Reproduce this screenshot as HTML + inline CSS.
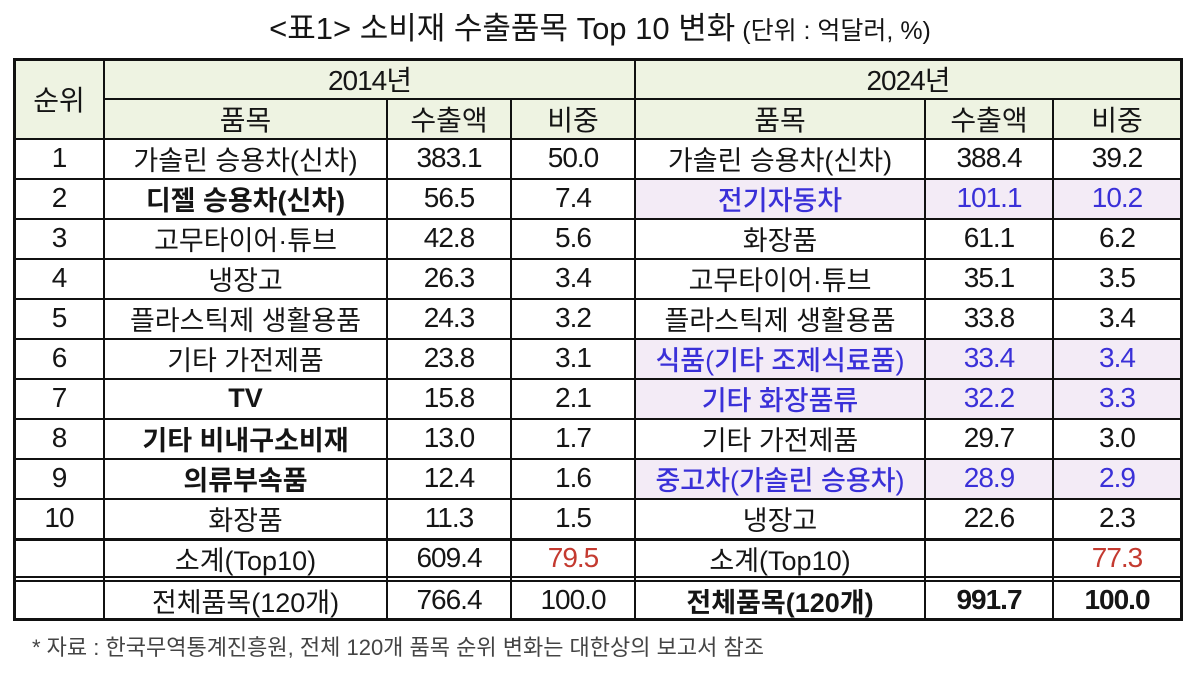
<!DOCTYPE html>
<html><head><meta charset="utf-8">
<style>
html,body{margin:0;padding:0;background:#fff;}
body{width:1200px;height:673px;position:relative;overflow:hidden;font-family:"Liberation Sans","Noto Sans CJK KR",sans-serif;color:#151515;}
.h,.v{position:absolute;background:#111;}
.bg{position:absolute;}
.c{position:absolute;display:flex;align-items:center;justify-content:center;white-space:nowrap;font-size:27px;height:40px;}
.n{font-size:28px;letter-spacing:-1px;}
.hd{font-size:28px;}
.b{font-weight:700;}
.bl{color:#3a30d8;font-weight:500;}
.rd{color:#c43a30;}
</style></head><body>

<div style="position:absolute;left:0;top:3px;width:1200px;text-align:center;white-space:nowrap;">
<span style="font-size:31px;">&lt;표1&gt; 소비재 수출품목 Top 10 변화</span><span style="font-size:25px;"> (단위 : 억달러, %)</span>
</div>

<!-- backgrounds -->
<div class="bg" style="left:13px;top:58px;width:1170px;height:81px;background:#eef3e2;"></div>
<div class="bg" style="left:635px;top:179px;width:546px;height:40px;background:#f3ebf6;"></div>
<div class="bg" style="left:635px;top:339px;width:546px;height:80px;background:#f3ebf6;"></div>
<div class="bg" style="left:635px;top:459px;width:546px;height:40px;background:#f3ebf6;"></div>

<!-- horizontal lines -->
<div class="h" style="left:13px;top:58px;width:1170px;height:3px;"></div>
<div class="h" style="left:103px;top:98px;width:1080px;height:2px;"></div>
<div class="h" style="left:13px;top:138px;width:1170px;height:2px;"></div>
<div class="h" style="left:13px;top:178px;width:1170px;height:2px;"></div>
<div class="h" style="left:13px;top:218px;width:1170px;height:2px;"></div>
<div class="h" style="left:13px;top:258px;width:1170px;height:2px;"></div>
<div class="h" style="left:13px;top:298px;width:1170px;height:2px;"></div>
<div class="h" style="left:13px;top:338px;width:1170px;height:2px;"></div>
<div class="h" style="left:13px;top:378px;width:1170px;height:2px;"></div>
<div class="h" style="left:13px;top:418px;width:1170px;height:2px;"></div>
<div class="h" style="left:13px;top:458px;width:1170px;height:2px;"></div>
<div class="h" style="left:13px;top:498px;width:1170px;height:2px;"></div>
<div class="h" style="left:13px;top:538px;width:1170px;height:3px;"></div>
<div class="h" style="left:13px;top:576px;width:1170px;height:2px;"></div>
<div class="h" style="left:13px;top:580px;width:1170px;height:2px;"></div>
<div class="h" style="left:13px;top:618px;width:1170px;height:3px;"></div>

<!-- vertical lines -->
<div class="v" style="left:13px;top:58px;width:3px;height:563px;"></div>
<div class="v" style="left:103px;top:58px;width:2px;height:563px;"></div>
<div class="v" style="left:386px;top:98px;width:2px;height:523px;"></div>
<div class="v" style="left:510px;top:98px;width:2px;height:523px;"></div>
<div class="v" style="left:634px;top:58px;width:2px;height:563px;"></div>
<div class="v" style="left:924px;top:98px;width:2px;height:523px;"></div>
<div class="v" style="left:1052px;top:98px;width:2px;height:523px;"></div>
<div class="v" style="left:1180px;top:58px;width:3px;height:563px;"></div>

<!-- headers -->
<div class="c hd" style="left:15px;width:88px;top:59px;height:80px;">순위</div>
<div class="c n" style="left:105px;width:529px;top:59px;">2014년</div>
<div class="c n" style="left:636px;width:544px;top:59px;">2024년</div>
<div class="c hd" style="left:105px;width:281px;top:99px;">품목</div>
<div class="c hd" style="left:388px;width:122px;top:99px;">수출액</div>
<div class="c hd" style="left:512px;width:122px;top:99px;">비중</div>
<div class="c hd" style="left:636px;width:288px;top:99px;">품목</div>
<div class="c hd" style="left:926px;width:126px;top:99px;">수출액</div>
<div class="c hd" style="left:1054px;width:126px;top:99px;">비중</div>

<!-- row 1 -->
<div class="c n" style="left:15px;width:88px;top:138px;">1</div>
<div class="c" style="left:105px;width:281px;top:138px;">가솔린 승용차(신차)</div>
<div class="c n" style="left:388px;width:122px;top:138px;">383.1</div>
<div class="c n" style="left:512px;width:122px;top:138px;">50.0</div>
<div class="c" style="left:636px;width:288px;top:138px;">가솔린 승용차(신차)</div>
<div class="c n" style="left:926px;width:126px;top:138px;">388.4</div>
<div class="c n" style="left:1054px;width:126px;top:138px;">39.2</div>
<!-- row 2 -->
<div class="c n" style="left:15px;width:88px;top:178px;">2</div>
<div class="c b" style="left:105px;width:281px;top:178px;">디젤 승용차(신차)</div>
<div class="c n" style="left:388px;width:122px;top:178px;">56.5</div>
<div class="c n" style="left:512px;width:122px;top:178px;">7.4</div>
<div class="c bl" style="left:636px;width:288px;top:178px;">전기자동차</div>
<div class="c n bl" style="left:926px;width:126px;top:178px;">101.1</div>
<div class="c n bl" style="left:1054px;width:126px;top:178px;">10.2</div>
<!-- row 3 -->
<div class="c n" style="left:15px;width:88px;top:218px;">3</div>
<div class="c" style="left:105px;width:281px;top:218px;">고무타이어·튜브</div>
<div class="c n" style="left:388px;width:122px;top:218px;">42.8</div>
<div class="c n" style="left:512px;width:122px;top:218px;">5.6</div>
<div class="c" style="left:636px;width:288px;top:218px;">화장품</div>
<div class="c n" style="left:926px;width:126px;top:218px;">61.1</div>
<div class="c n" style="left:1054px;width:126px;top:218px;">6.2</div>
<!-- row 4 -->
<div class="c n" style="left:15px;width:88px;top:258px;">4</div>
<div class="c" style="left:105px;width:281px;top:258px;">냉장고</div>
<div class="c n" style="left:388px;width:122px;top:258px;">26.3</div>
<div class="c n" style="left:512px;width:122px;top:258px;">3.4</div>
<div class="c" style="left:636px;width:288px;top:258px;">고무타이어·튜브</div>
<div class="c n" style="left:926px;width:126px;top:258px;">35.1</div>
<div class="c n" style="left:1054px;width:126px;top:258px;">3.5</div>
<!-- row 5 -->
<div class="c n" style="left:15px;width:88px;top:298px;">5</div>
<div class="c" style="left:105px;width:281px;top:298px;">플라스틱제 생활용품</div>
<div class="c n" style="left:388px;width:122px;top:298px;">24.3</div>
<div class="c n" style="left:512px;width:122px;top:298px;">3.2</div>
<div class="c" style="left:636px;width:288px;top:298px;">플라스틱제 생활용품</div>
<div class="c n" style="left:926px;width:126px;top:298px;">33.8</div>
<div class="c n" style="left:1054px;width:126px;top:298px;">3.4</div>
<!-- row 6 -->
<div class="c n" style="left:15px;width:88px;top:338px;">6</div>
<div class="c" style="left:105px;width:281px;top:338px;">기타 가전제품</div>
<div class="c n" style="left:388px;width:122px;top:338px;">23.8</div>
<div class="c n" style="left:512px;width:122px;top:338px;">3.1</div>
<div class="c bl" style="left:636px;width:288px;top:338px;">식품(기타 조제식료품)</div>
<div class="c n bl" style="left:926px;width:126px;top:338px;">33.4</div>
<div class="c n bl" style="left:1054px;width:126px;top:338px;">3.4</div>
<!-- row 7 -->
<div class="c n" style="left:15px;width:88px;top:378px;">7</div>
<div class="c b" style="left:105px;width:281px;top:378px;">TV</div>
<div class="c n" style="left:388px;width:122px;top:378px;">15.8</div>
<div class="c n" style="left:512px;width:122px;top:378px;">2.1</div>
<div class="c bl" style="left:636px;width:288px;top:378px;">기타 화장품류</div>
<div class="c n bl" style="left:926px;width:126px;top:378px;">32.2</div>
<div class="c n bl" style="left:1054px;width:126px;top:378px;">3.3</div>
<!-- row 8 -->
<div class="c n" style="left:15px;width:88px;top:418px;">8</div>
<div class="c b" style="left:105px;width:281px;top:418px;">기타 비내구소비재</div>
<div class="c n" style="left:388px;width:122px;top:418px;">13.0</div>
<div class="c n" style="left:512px;width:122px;top:418px;">1.7</div>
<div class="c" style="left:636px;width:288px;top:418px;">기타 가전제품</div>
<div class="c n" style="left:926px;width:126px;top:418px;">29.7</div>
<div class="c n" style="left:1054px;width:126px;top:418px;">3.0</div>
<!-- row 9 -->
<div class="c n" style="left:15px;width:88px;top:458px;">9</div>
<div class="c b" style="left:105px;width:281px;top:458px;">의류부속품</div>
<div class="c n" style="left:388px;width:122px;top:458px;">12.4</div>
<div class="c n" style="left:512px;width:122px;top:458px;">1.6</div>
<div class="c bl" style="left:636px;width:288px;top:458px;">중고차(가솔린 승용차)</div>
<div class="c n bl" style="left:926px;width:126px;top:458px;">28.9</div>
<div class="c n bl" style="left:1054px;width:126px;top:458px;">2.9</div>
<!-- row 10 -->
<div class="c n" style="left:15px;width:88px;top:498px;">10</div>
<div class="c" style="left:105px;width:281px;top:498px;">화장품</div>
<div class="c n" style="left:388px;width:122px;top:498px;">11.3</div>
<div class="c n" style="left:512px;width:122px;top:498px;">1.5</div>
<div class="c" style="left:636px;width:288px;top:498px;">냉장고</div>
<div class="c n" style="left:926px;width:126px;top:498px;">22.6</div>
<div class="c n" style="left:1054px;width:126px;top:498px;">2.3</div>
<!-- subtotal -->
<div class="c" style="left:105px;width:281px;top:538px;">소계(Top10)</div>
<div class="c n" style="left:388px;width:122px;top:538px;">609.4</div>
<div class="c n rd" style="left:512px;width:122px;top:538px;">79.5</div>
<div class="c" style="left:636px;width:288px;top:538px;">소계(Top10)</div>
<div class="c n rd" style="left:1054px;width:126px;top:538px;">77.3</div>
<!-- total -->
<div class="c" style="left:105px;width:281px;top:580px;">전체품목(120개)</div>
<div class="c n" style="left:388px;width:122px;top:580px;">766.4</div>
<div class="c n" style="left:512px;width:122px;top:580px;">100.0</div>
<div class="c b" style="left:636px;width:288px;top:580px;">전체품목(120개)</div>
<div class="c n b" style="left:926px;width:126px;top:580px;">991.7</div>
<div class="c n b" style="left:1054px;width:126px;top:580px;">100.0</div>

<div style="position:absolute;left:32px;top:633px;font-size:22px;color:#444;white-space:nowrap;line-height:30px;">* 자료 : 한국무역통계진흥원, 전체 120개 품목 순위 변화는 대한상의 보고서 참조</div>

</body></html>
